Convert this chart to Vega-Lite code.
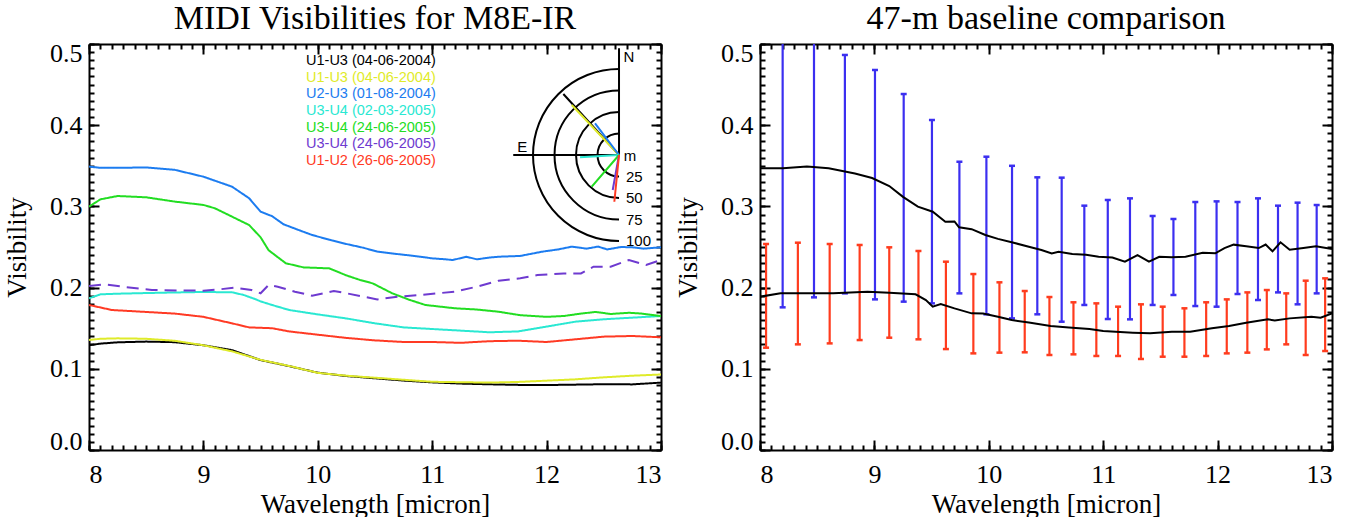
{
"$schema": "https://vega.github.io/schema/vega-lite/v6.json",
"background": "white",
"padding": {"left": 3, "top": 2, "right": 5, "bottom": 0},
"spacing": 12,
"resolve": {"scale": {"color": "independent", "strokeDash": "independent"}},
"config": {
  "view": {"stroke": null},
  "font": "Liberation Serif",
  "title": {"font": "Liberation Serif", "fontSize": 34, "fontWeight": "normal", "color": "#000000", "offset": 4},
  "axis": {"grid": false, "domainColor": "#000000", "domainWidth": 2, "tickColor": "#000000", "tickWidth": 2, "tickSize": -10, "labelFont": "Liberation Serif", "labelFontSize": 26, "labelColor": "#000000", "labelOverlap": false, "titleFont": "Liberation Serif", "titleFontSize": 27, "titleFontWeight": "normal", "titleColor": "#000000"}
},
"datasets": {
  "spectra": [
    {"obs":"U1-U3 #1","lam":8,"vis":0.129},{"obs":"U1-U3 #1","lam":8.1,"vis":0.131},{"obs":"U1-U3 #1","lam":8.25,"vis":0.1326},{"obs":"U1-U3 #1","lam":8.5,"vis":0.1335},{"obs":"U1-U3 #1","lam":8.75,"vis":0.1328},{"obs":"U1-U3 #1","lam":9,"vis":0.129},{"obs":"U1-U3 #1","lam":9.25,"vis":0.123},{"obs":"U1-U3 #1","lam":9.5,"vis":0.1107},{"obs":"U1-U3 #1","lam":9.75,"vis":0.1033},{"obs":"U1-U3 #1","lam":10,"vis":0.0952},{"obs":"U1-U3 #1","lam":10.25,"vis":0.0911},{"obs":"U1-U3 #1","lam":10.5,"vis":0.0883},{"obs":"U1-U3 #1","lam":10.75,"vis":0.0855},{"obs":"U1-U3 #1","lam":11,"vis":0.0833},{"obs":"U1-U3 #1","lam":11.25,"vis":0.0818},{"obs":"U1-U3 #1","lam":11.5,"vis":0.0809},{"obs":"U1-U3 #1","lam":11.75,"vis":0.0802},{"obs":"U1-U3 #1","lam":12,"vis":0.08},{"obs":"U1-U3 #1","lam":12.25,"vis":0.0805},{"obs":"U1-U3 #1","lam":12.5,"vis":0.081},{"obs":"U1-U3 #1","lam":12.75,"vis":0.0808},{"obs":"U1-U3 #1","lam":13,"vis":0.083},
    {"obs":"U1-U3 #2","lam":8,"vis":0.1355},{"obs":"U1-U3 #2","lam":8.1,"vis":0.137},{"obs":"U1-U3 #2","lam":8.25,"vis":0.1375},{"obs":"U1-U3 #2","lam":8.5,"vis":0.137},{"obs":"U1-U3 #2","lam":8.75,"vis":0.1345},{"obs":"U1-U3 #2","lam":9,"vis":0.129},{"obs":"U1-U3 #2","lam":9.25,"vis":0.1215},{"obs":"U1-U3 #2","lam":9.5,"vis":0.111},{"obs":"U1-U3 #2","lam":9.75,"vis":0.1035},{"obs":"U1-U3 #2","lam":10,"vis":0.095},{"obs":"U1-U3 #2","lam":10.25,"vis":0.0915},{"obs":"U1-U3 #2","lam":10.5,"vis":0.089},{"obs":"U1-U3 #2","lam":10.75,"vis":0.0865},{"obs":"U1-U3 #2","lam":11,"vis":0.084},{"obs":"U1-U3 #2","lam":11.25,"vis":0.0835},{"obs":"U1-U3 #2","lam":11.5,"vis":0.083},{"obs":"U1-U3 #2","lam":11.75,"vis":0.0838},{"obs":"U1-U3 #2","lam":12,"vis":0.0854},{"obs":"U1-U3 #2","lam":12.25,"vis":0.087},{"obs":"U1-U3 #2","lam":12.5,"vis":0.0895},{"obs":"U1-U3 #2","lam":12.75,"vis":0.0915},{"obs":"U1-U3 #2","lam":13,"vis":0.093},
    {"obs":"U2-U3","lam":8,"vis":0.349},{"obs":"U2-U3","lam":8.1,"vis":0.3475},{"obs":"U2-U3","lam":8.25,"vis":0.3475},{"obs":"U2-U3","lam":8.5,"vis":0.348},{"obs":"U2-U3","lam":8.75,"vis":0.345},{"obs":"U2-U3","lam":9,"vis":0.3366},{"obs":"U2-U3","lam":9.25,"vis":0.3243},{"obs":"U2-U3","lam":9.4,"vis":0.31},{"obs":"U2-U3","lam":9.5,"vis":0.2935},{"obs":"U2-U3","lam":9.6,"vis":0.288},{"obs":"U2-U3","lam":9.7,"vis":0.278},{"obs":"U2-U3","lam":9.85,"vis":0.27},{"obs":"U2-U3","lam":9.95,"vis":0.2648},{"obs":"U2-U3","lam":10.1,"vis":0.259},{"obs":"U2-U3","lam":10.25,"vis":0.2537},{"obs":"U2-U3","lam":10.4,"vis":0.249},{"obs":"U2-U3","lam":10.52,"vis":0.2443},{"obs":"U2-U3","lam":10.65,"vis":0.242},{"obs":"U2-U3","lam":10.78,"vis":0.24},{"obs":"U2-U3","lam":10.9,"vis":0.238},{"obs":"U2-U3","lam":11,"vis":0.236},{"obs":"U2-U3","lam":11.1,"vis":0.235},{"obs":"U2-U3","lam":11.18,"vis":0.234},{"obs":"U2-U3","lam":11.3,"vis":0.238},{"obs":"U2-U3","lam":11.39,"vis":0.2348},{"obs":"U2-U3","lam":11.5,"vis":0.237},{"obs":"U2-U3","lam":11.58,"vis":0.238},{"obs":"U2-U3","lam":11.77,"vis":0.239},{"obs":"U2-U3","lam":11.96,"vis":0.2442},{"obs":"U2-U3","lam":12.1,"vis":0.247},{"obs":"U2-U3","lam":12.22,"vis":0.2504},{"obs":"U2-U3","lam":12.35,"vis":0.248},{"obs":"U2-U3","lam":12.45,"vis":0.2505},{"obs":"U2-U3","lam":12.53,"vis":0.247},{"obs":"U2-U3","lam":12.65,"vis":0.25},{"obs":"U2-U3","lam":12.75,"vis":0.2496},{"obs":"U2-U3","lam":12.85,"vis":0.248},{"obs":"U2-U3","lam":13,"vis":0.2496},
    {"obs":"U3-U4 #1","lam":8,"vis":0.1868},{"obs":"U3-U4 #1","lam":8.1,"vis":0.1917},{"obs":"U3-U4 #1","lam":8.25,"vis":0.1925},{"obs":"U3-U4 #1","lam":8.5,"vis":0.1933},{"obs":"U3-U4 #1","lam":8.75,"vis":0.194},{"obs":"U3-U4 #1","lam":9,"vis":0.1946},{"obs":"U3-U4 #1","lam":9.25,"vis":0.1942},{"obs":"U3-U4 #1","lam":9.35,"vis":0.191},{"obs":"U3-U4 #1","lam":9.45,"vis":0.186},{"obs":"U3-U4 #1","lam":9.5,"vis":0.183},{"obs":"U3-U4 #1","lam":9.6,"vis":0.1786},{"obs":"U3-U4 #1","lam":9.75,"vis":0.1724},{"obs":"U3-U4 #1","lam":10,"vis":0.167},{"obs":"U3-U4 #1","lam":10.25,"vis":0.162},{"obs":"U3-U4 #1","lam":10.5,"vis":0.156},{"obs":"U3-U4 #1","lam":10.75,"vis":0.151},{"obs":"U3-U4 #1","lam":11,"vis":0.149},{"obs":"U3-U4 #1","lam":11.25,"vis":0.147},{"obs":"U3-U4 #1","lam":11.5,"vis":0.145},{"obs":"U3-U4 #1","lam":11.75,"vis":0.146},{"obs":"U3-U4 #1","lam":12,"vis":0.152},{"obs":"U3-U4 #1","lam":12.25,"vis":0.158},{"obs":"U3-U4 #1","lam":12.5,"vis":0.161},{"obs":"U3-U4 #1","lam":12.75,"vis":0.163},{"obs":"U3-U4 #1","lam":13,"vis":0.165},
    {"obs":"U3-U4 #2","lam":8,"vis":0.2997},{"obs":"U3-U4 #2","lam":8.1,"vis":0.3087},{"obs":"U3-U4 #2","lam":8.25,"vis":0.3128},{"obs":"U3-U4 #2","lam":8.5,"vis":0.3112},{"obs":"U3-U4 #2","lam":8.75,"vis":0.3059},{"obs":"U3-U4 #2","lam":9,"vis":0.3018},{"obs":"U3-U4 #2","lam":9.1,"vis":0.2977},{"obs":"U3-U4 #2","lam":9.25,"vis":0.2874},{"obs":"U3-U4 #2","lam":9.4,"vis":0.277},{"obs":"U3-U4 #2","lam":9.5,"vis":0.262},{"obs":"U3-U4 #2","lam":9.57,"vis":0.246},{"obs":"U3-U4 #2","lam":9.72,"vis":0.23},{"obs":"U3-U4 #2","lam":9.875,"vis":0.2249},{"obs":"U3-U4 #2","lam":10.1,"vis":0.2237},{"obs":"U3-U4 #2","lam":10.25,"vis":0.215},{"obs":"U3-U4 #2","lam":10.37,"vis":0.2094},{"obs":"U3-U4 #2","lam":10.48,"vis":0.2052},{"obs":"U3-U4 #2","lam":10.65,"vis":0.193},{"obs":"U3-U4 #2","lam":10.8,"vis":0.185},{"obs":"U3-U4 #2","lam":10.94,"vis":0.1786},{"obs":"U3-U4 #2","lam":11.2,"vis":0.1745},{"obs":"U3-U4 #2","lam":11.39,"vis":0.173},{"obs":"U3-U4 #2","lam":11.58,"vis":0.1703},{"obs":"U3-U4 #2","lam":11.77,"vis":0.166},{"obs":"U3-U4 #2","lam":12,"vis":0.164},{"obs":"U3-U4 #2","lam":12.15,"vis":0.165},{"obs":"U3-U4 #2","lam":12.3,"vis":0.168},{"obs":"U3-U4 #2","lam":12.43,"vis":0.17},{"obs":"U3-U4 #2","lam":12.56,"vis":0.1675},{"obs":"U3-U4 #2","lam":12.72,"vis":0.169},{"obs":"U3-U4 #2","lam":12.83,"vis":0.168},{"obs":"U3-U4 #2","lam":13,"vis":0.165},
    {"obs":"U3-U4 #3","lam":8,"vis":0.202},{"obs":"U3-U4 #3","lam":8.13,"vis":0.204},{"obs":"U3-U4 #3","lam":8.3,"vis":0.201},{"obs":"U3-U4 #3","lam":8.55,"vis":0.197},{"obs":"U3-U4 #3","lam":8.8,"vis":0.1965},{"obs":"U3-U4 #3","lam":9,"vis":0.1962},{"obs":"U3-U4 #3","lam":9.15,"vis":0.198},{"obs":"U3-U4 #3","lam":9.27,"vis":0.1998},{"obs":"U3-U4 #3","lam":9.42,"vis":0.197},{"obs":"U3-U4 #3","lam":9.5,"vis":0.193},{"obs":"U3-U4 #3","lam":9.57,"vis":0.2032},{"obs":"U3-U4 #3","lam":9.65,"vis":0.2011},{"obs":"U3-U4 #3","lam":9.8,"vis":0.195},{"obs":"U3-U4 #3","lam":9.95,"vis":0.19},{"obs":"U3-U4 #3","lam":10.14,"vis":0.1958},{"obs":"U3-U4 #3","lam":10.25,"vis":0.193},{"obs":"U3-U4 #3","lam":10.37,"vis":0.1896},{"obs":"U3-U4 #3","lam":10.52,"vis":0.1855},{"obs":"U3-U4 #3","lam":10.7,"vis":0.1888},{"obs":"U3-U4 #3","lam":10.9,"vis":0.1909},{"obs":"U3-U4 #3","lam":11.05,"vis":0.193},{"obs":"U3-U4 #3","lam":11.2,"vis":0.195},{"obs":"U3-U4 #3","lam":11.39,"vis":0.2011},{"obs":"U3-U4 #3","lam":11.58,"vis":0.2085},{"obs":"U3-U4 #3","lam":11.77,"vis":0.2114},{"obs":"U3-U4 #3","lam":11.92,"vis":0.2155},{"obs":"U3-U4 #3","lam":12.15,"vis":0.2175},{"obs":"U3-U4 #3","lam":12.3,"vis":0.2175},{"obs":"U3-U4 #3","lam":12.41,"vis":0.2257},{"obs":"U3-U4 #3","lam":12.56,"vis":0.2257},{"obs":"U3-U4 #3","lam":12.72,"vis":0.234},{"obs":"U3-U4 #3","lam":12.87,"vis":0.2278},{"obs":"U3-U4 #3","lam":13,"vis":0.234},
    {"obs":"U1-U2","lam":8,"vis":0.1786},{"obs":"U1-U2","lam":8.2,"vis":0.1724},{"obs":"U1-U2","lam":8.5,"vis":0.17},{"obs":"U1-U2","lam":8.75,"vis":0.168},{"obs":"U1-U2","lam":9,"vis":0.164},{"obs":"U1-U2","lam":9.25,"vis":0.156},{"obs":"U1-U2","lam":9.4,"vis":0.151},{"obs":"U1-U2","lam":9.6,"vis":0.15},{"obs":"U1-U2","lam":9.75,"vis":0.146},{"obs":"U1-U2","lam":10,"vis":0.142},{"obs":"U1-U2","lam":10.25,"vis":0.138},{"obs":"U1-U2","lam":10.5,"vis":0.135},{"obs":"U1-U2","lam":10.75,"vis":0.133},{"obs":"U1-U2","lam":11,"vis":0.133},{"obs":"U1-U2","lam":11.25,"vis":0.132},{"obs":"U1-U2","lam":11.5,"vis":0.134},{"obs":"U1-U2","lam":11.75,"vis":0.1346},{"obs":"U1-U2","lam":12,"vis":0.133},{"obs":"U1-U2","lam":12.25,"vis":0.1363},{"obs":"U1-U2","lam":12.5,"vis":0.1396},{"obs":"U1-U2","lam":12.75,"vis":0.1404},{"obs":"U1-U2","lam":13,"vis":0.1388}
  ],
  "legend": [
    {"obs":"U1-U3 #1","rank":0,"label":"U1-U3 (04-06-2004)"},
    {"obs":"U1-U3 #2","rank":1,"label":"U1-U3 (04-06-2004)"},
    {"obs":"U2-U3","rank":2,"label":"U2-U3 (01-08-2004)"},
    {"obs":"U3-U4 #1","rank":3,"label":"U3-U4 (02-03-2005)"},
    {"obs":"U3-U4 #2","rank":4,"label":"U3-U4 (24-06-2005)"},
    {"obs":"U3-U4 #3","rank":5,"label":"U3-U4 (24-06-2005)"},
    {"obs":"U1-U2","rank":6,"label":"U1-U2 (26-06-2005)"}
  ],
  "uv": [
    {"obs":"U1-U3 #1","len":96,"pa":42.4},
    {"obs":"U1-U3 #2","len":80,"pa":43.4},
    {"obs":"U2-U3","len":46.2,"pa":37.1},
    {"obs":"U3-U4 #1","len":45.4,"pa":93.4},
    {"obs":"U3-U4 #2","len":48.6,"pa":139.3},
    {"obs":"U3-U4 #3","len":41.4,"pa":169.8},
    {"obs":"U1-U2","len":54.6,"pa":174.3}
  ],
  "compass": [
    {"dir":"N","len":124,"pa":0},
    {"dir":"E","len":123,"pa":90}
  ],
  "rings": [{"ring":25},{"ring":50},{"ring":75},{"ring":100}],
  "spectra47": [
    {"set":"U2-U3","lam":8,"vis":0.347},{"set":"U2-U3","lam":8.2,"vis":0.347},{"set":"U2-U3","lam":8.41,"vis":0.349},{"set":"U2-U3","lam":8.6,"vis":0.347},{"set":"U2-U3","lam":8.83,"vis":0.3404},{"set":"U2-U3","lam":8.98,"vis":0.335},{"set":"U2-U3","lam":9.13,"vis":0.3251},{"set":"U2-U3","lam":9.25,"vis":0.3118},{"set":"U2-U3","lam":9.38,"vis":0.2997},{"set":"U2-U3","lam":9.51,"vis":0.2935},{"set":"U2-U3","lam":9.62,"vis":0.2812},{"set":"U2-U3","lam":9.7,"vis":0.2815},{"set":"U2-U3","lam":9.74,"vis":0.2742},{"set":"U2-U3","lam":9.85,"vis":0.272},{"set":"U2-U3","lam":9.97,"vis":0.2648},{"set":"U2-U3","lam":10.08,"vis":0.26},{"set":"U2-U3","lam":10.2,"vis":0.2558},{"set":"U2-U3","lam":10.35,"vis":0.2504},{"set":"U2-U3","lam":10.46,"vis":0.2463},{"set":"U2-U3","lam":10.55,"vis":0.242},{"set":"U2-U3","lam":10.61,"vis":0.2442},{"set":"U2-U3","lam":10.73,"vis":0.2414},{"set":"U2-U3","lam":10.85,"vis":0.2405},{"set":"U2-U3","lam":10.96,"vis":0.238},{"set":"U2-U3","lam":11.08,"vis":0.237},{"set":"U2-U3","lam":11.19,"vis":0.232},{"set":"U2-U3","lam":11.3,"vis":0.24},{"set":"U2-U3","lam":11.4,"vis":0.232},{"set":"U2-U3","lam":11.49,"vis":0.238},{"set":"U2-U3","lam":11.6,"vis":0.2375},{"set":"U2-U3","lam":11.72,"vis":0.238},{"set":"U2-U3","lam":11.87,"vis":0.243},{"set":"U2-U3","lam":11.98,"vis":0.2422},{"set":"U2-U3","lam":12.06,"vis":0.2487},{"set":"U2-U3","lam":12.14,"vis":0.2529},{"set":"U2-U3","lam":12.25,"vis":0.2508},{"set":"U2-U3","lam":12.36,"vis":0.2487},{"set":"U2-U3","lam":12.42,"vis":0.253},{"set":"U2-U3","lam":12.48,"vis":0.2447},{"set":"U2-U3","lam":12.55,"vis":0.2558},{"set":"U2-U3","lam":12.63,"vis":0.2467},{"set":"U2-U3","lam":12.75,"vis":0.2487},{"set":"U2-U3","lam":12.86,"vis":0.2508},{"set":"U2-U3","lam":13,"vis":0.2475},
    {"set":"U3-U4","lam":8,"vis":0.1888},{"set":"U3-U4","lam":8.18,"vis":0.1929},{"set":"U3-U4","lam":8.4,"vis":0.193},{"set":"U3-U4","lam":8.64,"vis":0.1929},{"set":"U3-U4","lam":8.94,"vis":0.195},{"set":"U3-U4","lam":9.13,"vis":0.1937},{"set":"U3-U4","lam":9.36,"vis":0.1917},{"set":"U3-U4","lam":9.45,"vis":0.1847},{"set":"U3-U4","lam":9.51,"vis":0.1765},{"set":"U3-U4","lam":9.58,"vis":0.1798},{"set":"U3-U4","lam":9.7,"vis":0.1744},{"set":"U3-U4","lam":9.85,"vis":0.1683},{"set":"U3-U4","lam":9.95,"vis":0.168},{"set":"U3-U4","lam":10.08,"vis":0.1642},{"set":"U3-U4","lam":10.2,"vis":0.16},{"set":"U3-U4","lam":10.35,"vis":0.157},{"set":"U3-U4","lam":10.54,"vis":0.1527},{"set":"U3-U4","lam":10.7,"vis":0.151},{"set":"U3-U4","lam":10.88,"vis":0.149},{"set":"U3-U4","lam":11,"vis":0.1465},{"set":"U3-U4","lam":11.11,"vis":0.1457},{"set":"U3-U4","lam":11.26,"vis":0.1445},{"set":"U3-U4","lam":11.41,"vis":0.1437},{"set":"U3-U4","lam":11.6,"vis":0.1457},{"set":"U3-U4","lam":11.76,"vis":0.1457},{"set":"U3-U4","lam":11.95,"vis":0.1498},{"set":"U3-U4","lam":12.1,"vis":0.1527},{"set":"U3-U4","lam":12.25,"vis":0.1568},{"set":"U3-U4","lam":12.44,"vis":0.1609},{"set":"U3-U4","lam":12.5,"vis":0.1595},{"set":"U3-U4","lam":12.63,"vis":0.1621},{"set":"U3-U4","lam":12.82,"vis":0.1642},{"set":"U3-U4","lam":12.9,"vis":0.163},{"set":"U3-U4","lam":13,"vis":0.1683}
  ],
  "err": [
    {"set":"U2-U3","lam":8.198,"lo":0.1757,"hi":0.52},{"set":"U2-U3","lam":8.472,"lo":0.188,"hi":0.51},{"set":"U2-U3","lam":8.742,"lo":0.1929,"hi":0.4865},{"set":"U2-U3","lam":9.005,"lo":0.1855,"hi":0.468},{"set":"U2-U3","lam":9.256,"lo":0.1827,"hi":0.4384},{"set":"U2-U3","lam":9.503,"lo":0.1806,"hi":0.4064},{"set":"U2-U3","lam":9.743,"lo":0.1929,"hi":0.355},{"set":"U2-U3","lam":9.979,"lo":0.1671,"hi":0.3612},{"set":"U2-U3","lam":10.203,"lo":0.1621,"hi":0.35},{"set":"U2-U3","lam":10.424,"lo":0.1671,"hi":0.3358},{"set":"U2-U3","lam":10.637,"lo":0.158,"hi":0.3354},{"set":"U2-U3","lam":10.835,"lo":0.1786,"hi":0.3009},{"set":"U2-U3","lam":11.04,"lo":0.1613,"hi":0.3079},{"set":"U2-U3","lam":11.234,"lo":0.1609,"hi":0.3099},{"set":"U2-U3","lam":11.432,"lo":0.1786,"hi":0.2882},{"set":"U2-U3","lam":11.614,"lo":0.1909,"hi":0.2845},{"set":"U2-U3","lam":11.805,"lo":0.1773,"hi":0.3054},{"set":"U2-U3","lam":11.991,"lo":0.1765,"hi":0.3062},{"set":"U2-U3","lam":12.174,"lo":0.1921,"hi":0.3054},{"set":"U2-U3","lam":12.353,"lo":0.1847,"hi":0.3099},{"set":"U2-U3","lam":12.528,"lo":0.1941,"hi":0.3009},{"set":"U2-U3","lam":12.699,"lo":0.1794,"hi":0.3046},{"set":"U2-U3","lam":12.866,"lo":0.1929,"hi":0.3017},
    {"set":"U3-U4","lam":8.053,"lo":0.126,"hi":0.2537},{"set":"U3-U4","lam":8.331,"lo":0.1301,"hi":0.2553},{"set":"U3-U4","lam":8.609,"lo":0.1313,"hi":0.2537},{"set":"U3-U4","lam":8.871,"lo":0.1354,"hi":0.2525},{"set":"U3-U4","lam":9.13,"lo":0.1383,"hi":0.2496},{"set":"U3-U4","lam":9.385,"lo":0.1363,"hi":0.2451},{"set":"U3-U4","lam":9.625,"lo":0.1243,"hi":0.2319},{"set":"U3-U4","lam":9.865,"lo":0.119,"hi":0.2167},{"set":"U3-U4","lam":10.093,"lo":0.1199,"hi":0.2065},{"set":"U3-U4","lam":10.314,"lo":0.1203,"hi":0.1958},{"set":"U3-U4","lam":10.53,"lo":0.117,"hi":0.1884},{"set":"U3-U4","lam":10.74,"lo":0.1178,"hi":0.1819},{"set":"U3-U4","lam":10.94,"lo":0.1158,"hi":0.1806},{"set":"U3-U4","lam":11.13,"lo":0.1158,"hi":0.1765},{"set":"U3-U4","lam":11.33,"lo":0.1121,"hi":0.1794},{"set":"U3-U4","lam":11.52,"lo":0.1149,"hi":0.1765},{"set":"U3-U4","lam":11.71,"lo":0.1149,"hi":0.1745},{"set":"U3-U4","lam":11.9,"lo":0.1158,"hi":0.1819},{"set":"U3-U4","lam":12.08,"lo":0.119,"hi":0.1855},{"set":"U3-U4","lam":12.26,"lo":0.1199,"hi":0.1941},{"set":"U3-U4","lam":12.43,"lo":0.1239,"hi":0.197},{"set":"U3-U4","lam":12.6,"lo":0.1301,"hi":0.1929},{"set":"U3-U4","lam":12.77,"lo":0.117,"hi":0.2085},{"set":"U3-U4","lam":12.94,"lo":0.1219,"hi":0.2114}
  ]
},
"hconcat": [
  {
    "title": "MIDI Visibilities for M8E-IR",
    "width": 572,
    "height": 406,
    "resolve": {"scale": {"y": "independent"}, "axis": {"x": "independent", "y": "independent"}},
    "layer": [
      {
        "data": {"name": "spectra"},
        "mark": {"type": "line", "strokeWidth": 2, "clip": true},
        "encoding": {
          "x": {"field": "lam", "type": "quantitative", "scale": {"domain": [8, 13], "nice": false, "zero": false},
                "axis": {"orient": "bottom", "values": [8, 9, 10, 11, 12, 13], "format": "d", "title": "Wavelength [micron]", "labelPadding": 21.5, "titlePadding": 3.5}},
          "y": {"field": "vis", "type": "quantitative", "scale": {"domain": [0, 0.5], "nice": false, "zero": false},
                "axis": {"orient": "left", "values": [0, 0.1, 0.2, 0.3, 0.4, 0.5], "format": ".1f", "title": "Visibility", "labelPadding": 17, "labelFlush": true, "labelFlushOffset": 4, "titlePadding": 18}},
          "color": {"field": "obs", "type": "nominal", "legend": null,
                    "scale": {"domain": ["U1-U3 #1", "U1-U3 #2", "U2-U3", "U3-U4 #1", "U3-U4 #2", "U3-U4 #3", "U1-U2"], "range": ["#000000", "#dfeb2a", "#1c7cf0", "#2ae8d2", "#22dd22", "#6e3ad0", "#ff3a24"]}},
          "strokeDash": {"field": "obs", "type": "nominal", "legend": null,
                    "scale": {"domain": ["U1-U3 #1", "U1-U3 #2", "U2-U3", "U3-U4 #1", "U3-U4 #2", "U3-U4 #3", "U1-U2"], "range": [[1, 0], [1, 0], [1, 0], [1, 0], [1, 0], [12, 7], [1, 0]]}}
        }
      },
      {
        "data": {"name": "legend"},
        "mark": {"type": "text", "align": "left", "baseline": "middle", "font": "Liberation Sans", "fontSize": 14.5},
        "encoding": {
          "x": {"datum": 9.897, "type": "quantitative", "axis": {"orient": "top", "values": [8, 9, 10, 11, 12, 13], "labels": false, "title": null}},
          "y": {"field": "rank", "type": "quantitative", "scale": {"domain": [-1.02, 23.34], "reverse": true, "nice": false, "zero": false}, "axis": null},
          "text": {"field": "label"},
          "color": {"field": "obs", "type": "nominal", "legend": null,
                    "scale": {"domain": ["U1-U3 #1", "U1-U3 #2", "U2-U3", "U3-U4 #1", "U3-U4 #2", "U3-U4 #3", "U1-U2"], "range": ["#000000", "#dfeb2a", "#1c7cf0", "#2ae8d2", "#22dd22", "#6e3ad0", "#ff3a24"]}}
        }
      },
      {
        "data": {"name": "rings"},
        "mark": {"type": "arc", "filled": false, "color": "#000000", "strokeWidth": 2},
        "encoding": {
          "x": {"datum": 12.633, "type": "quantitative", "axis": {"orient": "bottom", "values": [8,8.1,8.2,8.3,8.4,8.5,8.6,8.7,8.8,8.9,9,9.1,9.2,9.3,9.4,9.5,9.6,9.7,9.8,9.9,10,10.1,10.2,10.3,10.4,10.5,10.6,10.7,10.8,10.9,11,11.1,11.2,11.3,11.4,11.5,11.6,11.7,11.8,11.9,12,12.1,12.2,12.3,12.4,12.5,12.6,12.7,12.8,12.9,13], "labels": false, "domain": false, "tickSize": -5, "title": null}},
          "y": {"datum": 0.3633, "type": "quantitative", "scale": {"domain": [0, 0.5], "nice": false, "zero": false}, "axis": {"orient": "right", "values": [0, 0.1, 0.2, 0.3, 0.4, 0.5], "labels": false, "title": null}},
          "theta": {"datum": 0, "type": "quantitative", "scale": {"type": "linear", "domain": [0, 360], "range": [6.283185, 0]}},
          "theta2": {"datum": 180},
          "radius": {"field": "ring", "type": "quantitative", "stack": null, "scale": {"type": "linear", "domain": [0, 100], "range": [0, 86], "zero": true}},
          "radius2": {"field": "ring"}
        }
      },
      {
        "data": {"name": "compass"},
        "mark": {"type": "arc", "filled": false, "color": "#000000", "strokeWidth": 2},
        "encoding": {
          "x": {"datum": 12.633, "type": "quantitative", "axis": {"orient": "top", "values": [8,8.1,8.2,8.3,8.4,8.5,8.6,8.7,8.8,8.9,9,9.1,9.2,9.3,9.4,9.5,9.6,9.7,9.8,9.9,10,10.1,10.2,10.3,10.4,10.5,10.6,10.7,10.8,10.9,11,11.1,11.2,11.3,11.4,11.5,11.6,11.7,11.8,11.9,12,12.1,12.2,12.3,12.4,12.5,12.6,12.7,12.8,12.9,13], "labels": false, "domain": false, "tickSize": -5, "title": null}},
          "y": {"datum": 0.3633, "type": "quantitative", "scale": {"domain": [0, 0.5], "nice": false, "zero": false}, "axis": {"orient": "left", "values": [0,0.01,0.02,0.03,0.04,0.05,0.06,0.07,0.08,0.09,0.1,0.11,0.12,0.13,0.14,0.15,0.16,0.17,0.18,0.19,0.2,0.21,0.22,0.23,0.24,0.25,0.26,0.27,0.28,0.29,0.3,0.31,0.32,0.33,0.34,0.35,0.36,0.37,0.38,0.39,0.4,0.41,0.42,0.43,0.44,0.45,0.46,0.47,0.48,0.49,0.5], "labels": false, "domain": false, "tickSize": -5, "title": null}},
          "theta": {"field": "pa", "type": "quantitative", "stack": null, "scale": {"type": "linear", "domain": [0, 360], "range": [6.283185, 0]}},
          "theta2": {"field": "pa"},
          "radius": {"field": "len", "type": "quantitative", "stack": null, "scale": {"type": "linear", "domain": [0, 100], "range": [0, 86], "zero": true}}
        }
      },
      {
        "data": {"name": "uv"},
        "mark": {"type": "arc", "filled": false, "strokeWidth": 2},
        "encoding": {
          "x": {"datum": 12.633, "type": "quantitative", "axis": null},
          "y": {"datum": 0.3633, "type": "quantitative", "scale": {"domain": [0, 0.5], "nice": false, "zero": false}, "axis": {"orient": "right", "values": [0,0.01,0.02,0.03,0.04,0.05,0.06,0.07,0.08,0.09,0.1,0.11,0.12,0.13,0.14,0.15,0.16,0.17,0.18,0.19,0.2,0.21,0.22,0.23,0.24,0.25,0.26,0.27,0.28,0.29,0.3,0.31,0.32,0.33,0.34,0.35,0.36,0.37,0.38,0.39,0.4,0.41,0.42,0.43,0.44,0.45,0.46,0.47,0.48,0.49,0.5], "labels": false, "domain": false, "tickSize": -5, "title": null}},
          "theta": {"field": "pa", "type": "quantitative", "stack": null, "scale": {"type": "linear", "domain": [0, 360], "range": [6.283185, 0]}},
          "theta2": {"field": "pa"},
          "radius": {"field": "len", "type": "quantitative", "stack": null, "scale": {"type": "linear", "domain": [0, 100], "range": [0, 86], "zero": true}},
          "color": {"field": "obs", "type": "nominal", "legend": null,
                    "scale": {"domain": ["U1-U3 #1", "U1-U3 #2", "U2-U3", "U3-U4 #1", "U3-U4 #2", "U3-U4 #3", "U1-U2"], "range": ["#000000", "#dfeb2a", "#1c7cf0", "#2ae8d2", "#22dd22", "#6e3ad0", "#ff3a24"]}}
        }
      },
      {
        "data": {"name": "rings"},
        "mark": {"type": "text", "align": "left", "baseline": "middle", "dx": 7, "font": "Liberation Sans", "fontSize": 15, "color": "#000000"},
        "encoding": {
          "x": {"datum": 12.633, "type": "quantitative", "axis": null},
          "y": {"datum": 0.3633, "type": "quantitative", "scale": {"domain": [0, 0.5], "nice": false, "zero": false}, "axis": null},
          "theta": {"datum": 180, "type": "quantitative", "scale": {"type": "linear", "domain": [0, 360], "range": [6.283185, 0]}},
          "radius": {"field": "ring", "type": "quantitative", "stack": null, "scale": {"type": "linear", "domain": [0, 100], "range": [0, 86], "zero": true}},
          "text": {"field": "ring"}
        }
      },
      {
        "data": {"values": [{"t": "N"}]},
        "mark": {"type": "text", "align": "center", "baseline": "middle", "font": "Liberation Sans", "fontSize": 15, "color": "#000000"},
        "encoding": {
          "x": {"datum": 12.633, "type": "quantitative", "axis": null},
          "y": {"datum": 0.3633, "type": "quantitative", "scale": {"domain": [0, 0.5], "nice": false, "zero": false}, "axis": null},
          "theta": {"datum": 354.2, "type": "quantitative", "scale": {"type": "linear", "domain": [0, 360], "range": [6.283185, 0]}},
          "radius": {"datum": 115, "type": "quantitative", "scale": {"type": "linear", "domain": [0, 100], "range": [0, 86], "zero": true}},
          "text": {"field": "t"}
        }
      },
      {
        "data": {"values": [{"t": "E"}]},
        "mark": {"type": "text", "align": "center", "baseline": "middle", "font": "Liberation Sans", "fontSize": 15, "color": "#000000"},
        "encoding": {
          "x": {"datum": 12.633, "type": "quantitative", "axis": null},
          "y": {"datum": 0.3633, "type": "quantitative", "scale": {"domain": [0, 0.5], "nice": false, "zero": false}, "axis": null},
          "theta": {"datum": 85.3, "type": "quantitative", "scale": {"type": "linear", "domain": [0, 360], "range": [6.283185, 0]}},
          "radius": {"datum": 113, "type": "quantitative", "scale": {"type": "linear", "domain": [0, 100], "range": [0, 86], "zero": true}},
          "text": {"field": "t"}
        }
      },
      {
        "data": {"values": [{"t": "m"}]},
        "mark": {"type": "text", "align": "center", "baseline": "middle", "font": "Liberation Sans", "fontSize": 15, "color": "#000000"},
        "encoding": {
          "x": {"datum": 12.633, "type": "quantitative", "axis": null},
          "y": {"datum": 0.3633, "type": "quantitative", "scale": {"domain": [0, 0.5], "nice": false, "zero": false}, "axis": null},
          "theta": {"datum": 264.8, "type": "quantitative", "scale": {"type": "linear", "domain": [0, 360], "range": [6.283185, 0]}},
          "radius": {"datum": 12.8, "type": "quantitative", "scale": {"type": "linear", "domain": [0, 100], "range": [0, 86], "zero": true}},
          "text": {"field": "t"}
        }
      }
    ]
  },
  {
    "title": "47-m baseline comparison",
    "width": 572,
    "height": 406,
    "resolve": {"axis": {"x": "independent", "y": "independent"}},
    "layer": [
      {
        "data": {"name": "err"},
        "mark": {"type": "rule", "strokeWidth": 2.2, "clip": true},
        "encoding": {
          "x": {"field": "lam", "type": "quantitative", "scale": {"domain": [8, 13], "nice": false, "zero": false}, "axis": {"orient": "top", "values": [8, 9, 10, 11, 12, 13], "labels": false, "title": null}},
          "y": {"field": "lo", "type": "quantitative", "scale": {"domain": [0, 0.5], "nice": false, "zero": false}, "axis": {"orient": "right", "values": [0, 0.1, 0.2, 0.3, 0.4, 0.5], "labels": false, "title": null}},
          "y2": {"field": "hi"},
          "color": {"field": "set", "type": "nominal", "legend": null, "scale": {"domain": ["U2-U3", "U3-U4"], "range": ["#3b2ff0", "#ff3c1e"]}}
        }
      },
      {
        "data": {"name": "err"},
        "mark": {"type": "tick", "orient": "horizontal", "size": 6, "thickness": 2.5, "opacity": 1, "clip": true},
        "encoding": {
          "x": {"field": "lam", "type": "quantitative", "scale": {"domain": [8, 13], "nice": false, "zero": false}, "axis": {"orient": "bottom", "values": [8,8.1,8.2,8.3,8.4,8.5,8.6,8.7,8.8,8.9,9,9.1,9.2,9.3,9.4,9.5,9.6,9.7,9.8,9.9,10,10.1,10.2,10.3,10.4,10.5,10.6,10.7,10.8,10.9,11,11.1,11.2,11.3,11.4,11.5,11.6,11.7,11.8,11.9,12,12.1,12.2,12.3,12.4,12.5,12.6,12.7,12.8,12.9,13], "labels": false, "domain": false, "tickSize": -5, "title": null}},
          "y": {"field": "lo", "type": "quantitative", "scale": {"domain": [0, 0.5], "nice": false, "zero": false}, "axis": {"orient": "left", "values": [0,0.01,0.02,0.03,0.04,0.05,0.06,0.07,0.08,0.09,0.1,0.11,0.12,0.13,0.14,0.15,0.16,0.17,0.18,0.19,0.2,0.21,0.22,0.23,0.24,0.25,0.26,0.27,0.28,0.29,0.3,0.31,0.32,0.33,0.34,0.35,0.36,0.37,0.38,0.39,0.4,0.41,0.42,0.43,0.44,0.45,0.46,0.47,0.48,0.49,0.5], "labels": false, "domain": false, "tickSize": -5, "title": null}},
          "color": {"field": "set", "type": "nominal", "legend": null, "scale": {"domain": ["U2-U3", "U3-U4"], "range": ["#3b2ff0", "#ff3c1e"]}}
        }
      },
      {
        "data": {"name": "err"},
        "mark": {"type": "tick", "orient": "horizontal", "size": 6, "thickness": 2.5, "opacity": 1, "clip": true},
        "encoding": {
          "x": {"field": "lam", "type": "quantitative", "scale": {"domain": [8, 13], "nice": false, "zero": false}, "axis": {"orient": "top", "values": [8,8.1,8.2,8.3,8.4,8.5,8.6,8.7,8.8,8.9,9,9.1,9.2,9.3,9.4,9.5,9.6,9.7,9.8,9.9,10,10.1,10.2,10.3,10.4,10.5,10.6,10.7,10.8,10.9,11,11.1,11.2,11.3,11.4,11.5,11.6,11.7,11.8,11.9,12,12.1,12.2,12.3,12.4,12.5,12.6,12.7,12.8,12.9,13], "labels": false, "domain": false, "tickSize": -5, "title": null}},
          "y": {"field": "hi", "type": "quantitative", "scale": {"domain": [0, 0.5], "nice": false, "zero": false}, "axis": {"orient": "right", "values": [0,0.01,0.02,0.03,0.04,0.05,0.06,0.07,0.08,0.09,0.1,0.11,0.12,0.13,0.14,0.15,0.16,0.17,0.18,0.19,0.2,0.21,0.22,0.23,0.24,0.25,0.26,0.27,0.28,0.29,0.3,0.31,0.32,0.33,0.34,0.35,0.36,0.37,0.38,0.39,0.4,0.41,0.42,0.43,0.44,0.45,0.46,0.47,0.48,0.49,0.5], "labels": false, "domain": false, "tickSize": -5, "title": null}},
          "color": {"field": "set", "type": "nominal", "legend": null, "scale": {"domain": ["U2-U3", "U3-U4"], "range": ["#3b2ff0", "#ff3c1e"]}}
        }
      },
      {
        "data": {"name": "spectra47"},
        "mark": {"type": "line", "strokeWidth": 2, "color": "#000000", "clip": true},
        "encoding": {
          "x": {"field": "lam", "type": "quantitative", "scale": {"domain": [8, 13], "nice": false, "zero": false},
                "axis": {"orient": "bottom", "values": [8, 9, 10, 11, 12, 13], "format": "d", "title": "Wavelength [micron]", "labelPadding": 21.5, "titlePadding": 3.5}},
          "y": {"field": "vis", "type": "quantitative", "scale": {"domain": [0, 0.5], "nice": false, "zero": false},
                "axis": {"orient": "left", "values": [0, 0.1, 0.2, 0.3, 0.4, 0.5], "format": ".1f", "title": "Visibility", "labelPadding": 17, "labelFlush": true, "labelFlushOffset": 4, "titlePadding": 18}},
          "detail": {"field": "set", "type": "nominal"}
        }
      }
    ]
  }
]
}
